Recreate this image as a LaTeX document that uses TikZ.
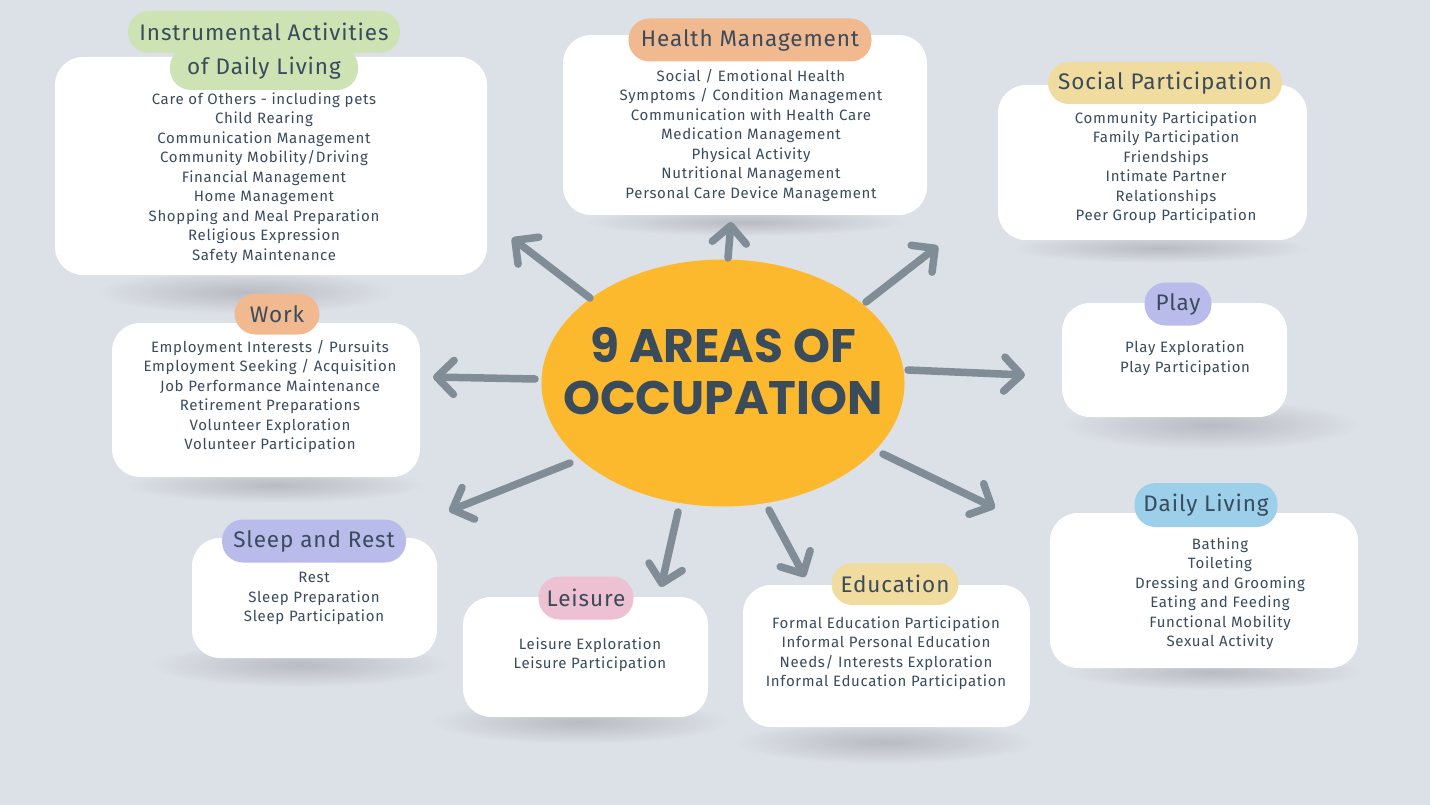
\documentclass[tikz,border=0pt]{standalone}
\usepackage{fontspec}
\setmainfont{Fira Sans}
\newfontfamily\titlefont{Poppins}
\newfontfamily\itemfont[LetterSpace=4.5]{Fira Sans}
\newfontfamily\labelfont[LetterSpace=4]{Fira Sans}
\usetikzlibrary{arrows.meta,fadings,shapes.geometric}
\definecolor{bg}{HTML}{DCE0E7}
\definecolor{ink}{HTML}{3A4B5C}
\definecolor{arrowc}{HTML}{808C96}
\definecolor{sun}{HTML}{FDB92E}
\definecolor{pgreen}{HTML}{CDE3B3}
\definecolor{ppeach}{HTML}{F1B990}
\definecolor{pyellow}{HTML}{F0DC9E}
\definecolor{plav}{HTML}{B9BCEB}
\definecolor{pblue}{HTML}{9CCFE9}
\definecolor{ppink}{HTML}{EDC1D1}
\tikzfading[name=softfade, inner color=transparent!20, outer color=transparent!100]
\begin{document}
\begin{tikzpicture}[x=1pt,y=-1pt,
  box/.style={fill=white, draw=none, rounded corners=28pt, inner sep=0pt},
  pill/.style={fill=#1, draw=none, rounded corners=21pt, inner sep=0pt, minimum height=43pt, text=ink, font=\labelfont\fontsize{22.5}{26}\selectfont},
  items/.style={text=ink, align=center, inner sep=0pt, font=\itemfont\fontsize{15}{19.5}\selectfont},
  spoke/.style={draw=arrowc, line width=7.5pt, line cap=round, -{Straight Barb[length=17pt, width=34pt, round]}},
  shade/.style={fill=black, opacity=0.2, path fading=softfade}
]
\useasboundingbox (0,0) rectangle (1430,805);
\fill[bg] (0,0) rectangle (1430,805);

% shadows
\fill[shade] (245,292) ellipse (150 and 22);
\fill[shade] (745,222) ellipse (160 and 14);
\fill[shade] (1160,248) ellipse (150 and 15);
\fill[shade] (275,485) ellipse (150 and 18);
\fill[shade] (1210,425) ellipse (150 and 25);
\fill[shade] (1215,672) ellipse (150 and 18);
\fill[shade] (300,665) ellipse (150 and 22);
\fill[shade] (580,722) ellipse (150 and 22);
\fill[shade] (885,742) ellipse (150 and 22);

% boxes
\node[box, minimum width=432pt, minimum height=218pt] (iadl) at (271,166) {};
\node[box, minimum width=364pt, minimum height=180pt] (health) at (745,125) {};
\node[box, minimum width=309pt, minimum height=155pt] (social) at (1152.5,162.5) {};
\node[box, minimum width=308pt, minimum height=154pt] (work) at (266,400) {};
\node[box, minimum width=225pt, minimum height=114pt] (play) at (1174.5,360) {};
\node[box, minimum width=308pt, minimum height=155pt] (daily) at (1204,590.5) {};
\node[box, minimum width=245pt, minimum height=120pt] (sleep) at (314.5,598) {};
\node[box, minimum width=245pt, minimum height=120pt] (leisure) at (585.5,657) {};
\node[box, minimum width=287pt, minimum height=142pt] (edu) at (886.5,656) {};

% pills
\node[pill=pgreen, minimum width=188pt, minimum height=44pt] (iadlB) at (264,68) {of Daily Living};
\node[pill=pgreen, minimum width=272pt, minimum height=42pt] (iadlT) at (264,32) {Instrumental Activities};
\node[pill=ppeach, minimum width=243pt] (healthT) at (750,40) {Health Management};
\node[pill=pyellow, minimum width=234pt, minimum height=42pt] (socialT) at (1165,83) {Social Participation};
\node[pill=ppeach, minimum width=85pt, minimum height=41pt] (workT) at (277,314) {Work};
\node[pill=plav, minimum width=67pt] (playT) at (1178,304) {Play};
\node[pill=pblue, minimum width=143pt, minimum height=44pt] (dailyT) at (1206,505) {Daily Living};
\node[pill=plav, minimum width=184pt] (sleepT) at (314,541) {Sleep and Rest};
\node[pill=ppink, minimum width=95pt] (leisureT) at (586,598) {Leisure};
\node[pill=pyellow, minimum width=127pt, minimum height=42pt] (eduT) at (895,584) {Education};

% item lists
\node[items] (iadlL) at (264,178) {Care of Others - including pets\\Child Rearing\\Communication Management\\Community Mobility/Driving\\Financial Management\\Home Management\\Shopping and Meal Preparation\\Religious Expression\\Safety Maintenance};
\node[items] (healthL) at (751,135.5) {Social / Emotional Health\\Symptoms / Condition Management\\Communication with Health Care\\Medication Management\\Physical Activity\\Nutritional Management\\Personal Care Device Management};
\node[items] (socialL) at (1166,167.5) {Community Participation\\Family Participation\\Friendships\\Intimate Partner\\Relationships\\Peer Group Participation};
\node[items] (workL) at (270,396.5) {Employment Interests / Pursuits\\Employment Seeking / Acquisition\\Job Performance Maintenance\\Retirement Preparations\\Volunteer Exploration\\Volunteer Participation};
\node[items] (playL) at (1185,358) {Play Exploration\\Play Participation};
\node[items] (dailyL) at (1220,593.5) {Bathing\\Toileting\\Dressing and Grooming\\Eating and Feeding\\Functional Mobility\\Sexual Activity};
\node[items] (sleepL) at (314,598.5) {Rest\\Sleep Preparation\\Sleep Participation};
\node[items] (leisureL) at (590,654.5) {Leisure Exploration\\Leisure Participation};
\node[items] (eduL) at (886,653) {Formal Education Participation\\Informal Personal Education\\Needs/ Interests Exploration\\Informal Education Participation};

% centre
\node[ellipse, fill=sun, minimum width=363pt, minimum height=247pt, inner sep=0pt] (occ) at (723,383) {};
\node[text=ink, align=center, font=\titlefont\bfseries\fontsize{47}{52}\selectfont] (occT) at (723,371) {9 AREAS OF\\OCCUPATION};

% spoke end points
\coordinate (s1) at (590,298); \coordinate (e1) at (512,238);
\coordinate (s2) at (728,258); \coordinate (e2) at (731,222);
\coordinate (s3) at (866,302); \coordinate (e3) at (938,246);
\coordinate (s4) at (908,370); \coordinate (e4) at (1025,375);
\coordinate (s5) at (883,454); \coordinate (e5) at (995,508);
\coordinate (s6) at (769,510); \coordinate (e6) at (805,577);
\coordinate (s7) at (678,512); \coordinate (e7) at (661,587);
\coordinate (s8) at (570,463); \coordinate (e8) at (449,511);
\coordinate (s9) at (535,379); \coordinate (e9) at (433,377);
\foreach \i in {1,...,9} \draw[spoke] (s\i) -- (e\i);
\end{tikzpicture}
\end{document}
